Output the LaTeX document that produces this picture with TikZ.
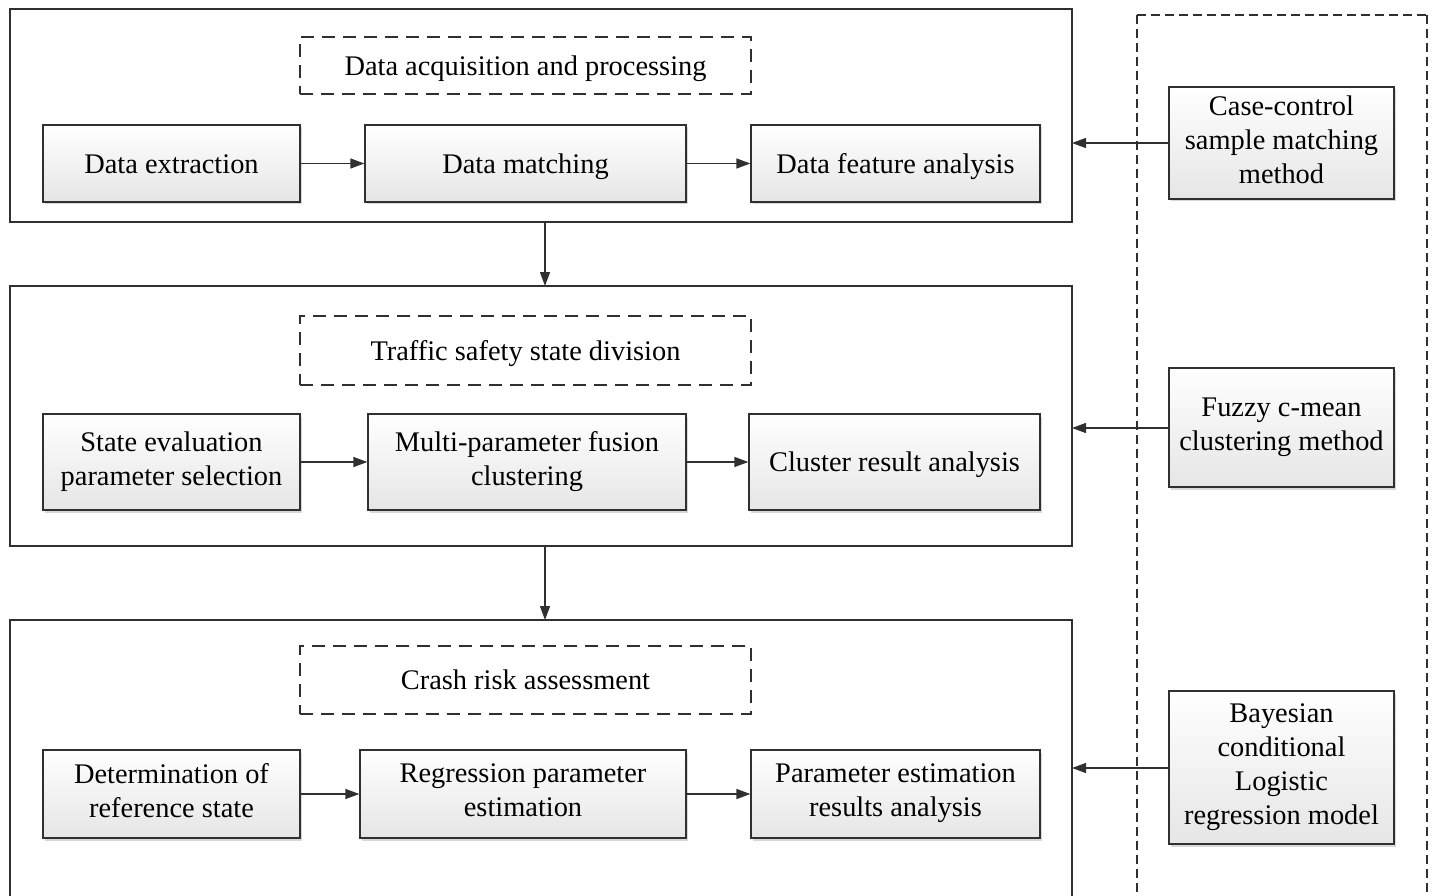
\documentclass[tikz,border=0pt]{standalone}
\usepackage{fontspec}
\setmainfont{Liberation Serif}
\usetikzlibrary{arrows.meta,shadows}
\definecolor{ink}{HTML}{303030}
\newcommand{\linestrut}{\rule{0pt}{26.6pt}\rule[-7.4pt]{0pt}{7.4pt}}
\tikzset{
  panel/.style={draw=ink, line width=1.4pt},
  titlebox/.style={draw=ink, line width=1.3pt, dash pattern=on 13pt off 8pt,
    minimum width=451pt, align=center, inner sep=0pt,
    font=\fontsize{28.4}{34}\selectfont,
    execute at begin node=\linestrut, execute at end node=\linestrut},
  stepbox/.style={draw=ink, line width=1.3pt, top color=white, bottom color=black!10,
    drop shadow={shadow xshift=2pt, shadow yshift=-2.5pt, fill=black!30, opacity=0.5},
    align=center, inner sep=0pt, font=\fontsize{28.4}{34}\selectfont,
    execute at begin node=\linestrut, execute at end node=\linestrut},
  methodbox/.style={stepbox, minimum width=225pt},
  flow/.style={draw=ink, line width=1.3pt, -{Triangle[length=14pt,width=10pt]}},
}
\begin{document}
\begin{tikzpicture}[x=1pt,y=-1pt]
\useasboundingbox (0,0) rectangle (1432,896);
\fill[white] (0,0) rectangle (1432,896);

% outer stage panels
\draw[panel] (10,9) rectangle (1072,222);
\draw[panel] (10,286) rectangle (1072,546);
\draw[panel] (10,620) rectangle (1072,910);
\coordinate (p1b) at (545,222);
\coordinate (p2t) at (545,286);
\coordinate (p2b) at (545,546);
\coordinate (p3t) at (545,620);

% methods column
\draw[draw=ink, line width=1.2pt, dash pattern=on 9pt off 5pt] (1137,15) -- (1427,15)
  (1137,15) -- (1137,910) (1427,15) -- (1427,910);

% stage titles
\node[titlebox, minimum height=57pt] (t1) at (525.5,65.5) {Data acquisition and processing};
\node[titlebox, minimum height=69pt] (t2) at (525.5,350.5) {Traffic safety state division};
\node[titlebox, minimum height=68pt] (t3) at (525.5,680) {Crash risk assessment};

% stage 1
\node[stepbox, minimum width=257pt, minimum height=77pt] (a1) at (171.5,163.5) {Data extraction};
\node[stepbox, minimum width=321pt, minimum height=77pt] (a2) at (525.5,163.5) {Data matching};
\node[stepbox, minimum width=289pt, minimum height=77pt] (a3) at (895.5,163.5) {Data feature analysis};

% stage 2
\node[stepbox, minimum width=257pt, minimum height=96pt] (b1) at (171.5,462) {State evaluation\\parameter selection};
\node[stepbox, minimum width=318pt, minimum height=96pt] (b2) at (527,462) {Multi-parameter fusion\\clustering};
\node[stepbox, minimum width=291pt, minimum height=96pt] (b3) at (894.5,462) {Cluster result analysis};

% stage 3
\node[stepbox, minimum width=257pt, minimum height=88pt] (c1) at (171.5,794) {Determination of\\reference state};
\node[stepbox, minimum width=326pt, minimum height=88pt] (c2) at (523,794) {Regression parameter\\estimation};
\node[stepbox, minimum width=289pt, minimum height=88pt] (c3) at (895.5,794) {Parameter estimation\\results analysis};

% methods
\node[methodbox, minimum height=112pt] (m1) at (1281.5,143) {Case-control\\sample matching\\method};
\node[methodbox, minimum height=119pt] (m2) at (1281.5,427.5) {Fuzzy c-mean\\clustering method};
\node[methodbox, minimum height=153pt] (m3) at (1281.5,767.5) {Bayesian\\conditional\\Logistic\\regression model};

% connectors inside stages
\draw[flow] (a1) -- (a2);
\draw[flow] (a2) -- (a3);
\draw[flow] (b1) -- (b2);
\draw[flow] (b2) -- (b3);
\draw[flow] (c1) -- (c2);
\draw[flow] (c2) -- (c3);

% connectors between stages
\draw[flow] (p1b) -- (p2t);
\draw[flow] (p2b) -- (p3t);

% methods feeding the stages
\coordinate (e1) at (1072,143);
\coordinate (e2) at (1072,428);
\coordinate (e3) at (1072,768);
\draw[flow] (m1.west) -- (e1);
\draw[flow] (m2.west |- e2) -- (e2);
\draw[flow] (m3.west |- e3) -- (e3);
\end{tikzpicture}
\end{document}
